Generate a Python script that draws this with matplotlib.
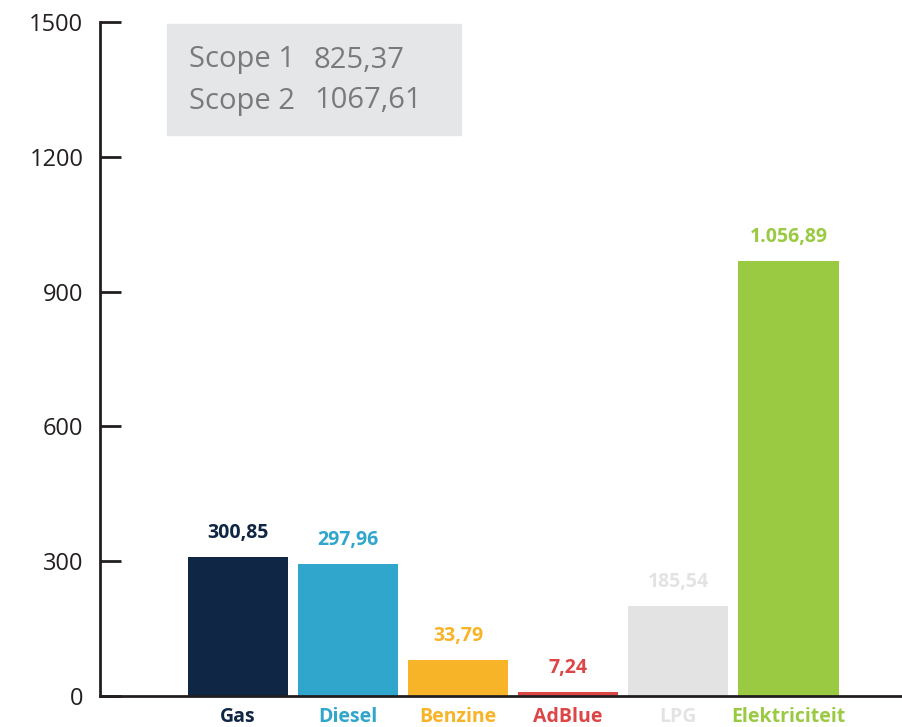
import matplotlib.pyplot as plt
from matplotlib.patches import Rectangle

# data
categories = ["Gas", "Diesel", "Benzine", "AdBlue", "LPG", "Elektriciteit"]
bar_heights = [309, 294, 80, 9, 200, 969]
value_labels = ["300,85", "297,96", "33,79", "7,24", "185,54", "1.056,89"]
colors = ["#0f2645", "#30a6cc", "#f8b428", "#dc4646", "#e3e3e3", "#9ac942"]
scope_names = ["Scope 1", "Scope 2"]
scope_values = ["825,37", "1067,61"]
yticks = [0, 300, 600, 900, 1200, 1500]

plt.rcParams['font.family'] = ['Open Sans', 'DejaVu Sans']

fig = plt.figure(figsize=(9.03, 7.27), dpi=100)
ax = fig.add_axes([100 / 903, 1 - 696 / 727, 1 - 100 / 903, (696 - 22) / 727])

x = list(range(len(categories)))
ax.bar(x, bar_heights, width=100 / 110, color=colors, zorder=2)
ax.set_xlim(-1.25, 6.04)
ax.set_ylim(0, 1500)

for xi, h, lab, c in zip(x, bar_heights, value_labels, colors):
    ax.annotate(lab, (xi, h), xytext=(0, 10), textcoords="offset points",
                ha="center", va="bottom", fontsize=14, fontweight="bold", color=c)

ax.set_xticks(x)
ax.set_xticklabels(categories, fontsize=14, fontweight="bold")
for t, c in zip(ax.get_xticklabels(), colors):
    t.set_color(c)
ax.tick_params(axis="x", length=0, pad=8)

ax.set_yticks(yticks)
ax.tick_params(axis="y", direction="in", length=15, width=2, color="#231f20",
               labelsize=17, labelcolor="#231f20", pad=12)

for s in ["top", "right"]:
    ax.spines[s].set_visible(False)
for s in ["left", "bottom"]:
    ax.spines[s].set_linewidth(2)
    ax.spines[s].set_color("#231f20")

# scope box
fig.patches.append(Rectangle((167 / 903, 1 - 135 / 727), 294 / 903, 111 / 727,
                             transform=fig.transFigure, color="#e5e6e7", zorder=0))
for i, (n, v) in enumerate(zip(scope_names, scope_values)):
    yy = 1 - (60 + 41 * i) / 727
    fig.text(189 / 903, yy, n, fontsize=21, color="#7a7a7a", va="center")
    fig.text(314 / 903, yy, v, fontsize=21, color="#7a7a7a", va="center")

fig.savefig("out.png", dpi=100)
